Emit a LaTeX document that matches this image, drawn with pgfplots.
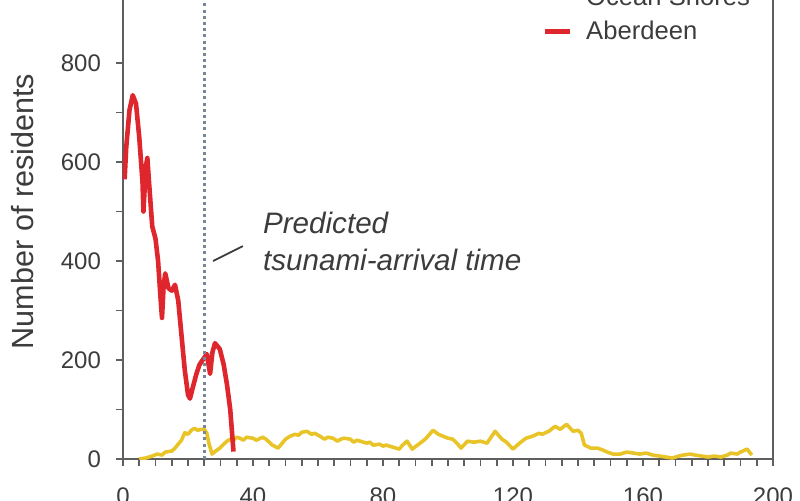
\documentclass[border=0pt]{standalone}
\usepackage{pgfplots}
\pgfplotsset{compat=1.18}
\usepackage{fontspec}
\setmainfont{Liberation Sans}

\definecolor{aberdeen}{RGB}{222,38,44}
\definecolor{oceanshores}{RGB}{232,196,40}
\definecolor{axisgrey}{RGB}{95,95,95}
\definecolor{textgrey}{RGB}{60,60,60}
\definecolor{arrivalline}{RGB}{120,135,150}

\begin{document}
\begin{tikzpicture}
\begin{axis}[
    name=ax,
    at={(0,0)}, anchor=south west,
    scale only axis,
    width=325pt, height=247.5pt,
    xmin=0, xmax=200, ymin=0, ymax=1000,
    xtick={0,40,...,200},
    ytick={0,200,...,800},
    minor x tick num=7,
    minor y tick num=1,
    tick align=outside,
    xtick pos=left, ytick pos=left,
    major tick length=3.5pt, minor tick length=3.5pt,
    axis line style={axisgrey, line width=0.8pt},
    every tick/.style={axisgrey, line width=0.8pt},
    /pgf/number format/assume math mode=true,
    tick label style={font=\fontsize{12}{14}\selectfont, text=textgrey},
    xticklabel style={yshift=-7.5pt},
    yticklabel style={xshift=-4pt},
    ylabel={Number of residents},
    ylabel style={font=\fontsize{15.3}{18}\selectfont, text=textgrey,
        at={(axis description cs:-0.154,0.5)}, anchor=center},
    legend style={draw=none, fill=none, at={(axis description cs:0.645,0.897)},
        anchor=west, inner sep=0pt, font=\fontsize{12.8}{15}\selectfont,
        text=textgrey, row sep=3pt,
        nodes={inner sep=1.5pt}},
    legend cell align=left,
    legend image code/.code={\draw[#1] (0pt,0pt) -- (12.5pt,0pt);
        \path (18pt,0pt);},
]
% Ocean Shores
\addplot[color=oceanshores, line width=1.8pt, line join=round] coordinates {
(5,0)(7,2)(9,6)(10.5,10)(12,8)(13,14)(15,16)(16,22)(17,30)(18,38)(19,53)(20,50)
(21,58)(22,62)(23,58)(24,60)(25,60)(25.8,52)(26.5,30)(27.4,10)(28.5,16)(29.8,22)
(31,30)(32,36)(33,40)(34,38)(35,44)(36,42)(37,38)(38,44)(40,42)(41,38)(43,44)
(44,40)(45,34)(46,28)(47.7,22)(49,32)(50,40)(51.4,46)(53,50)(54,48)(55,54)
(56.6,56)(58,50)(59,52)(60.6,46)(62,40)(63,44)(64.6,42)(66,36)(67,40)(68,42)
(70,40)(71,34)(72,38)(73,36)(75,32)(76,34)(77,28)(79,30)(80,26)(81,28)(83,24)
(85,20)(86,28)(87.4,36)(89,20)(91,30)(93,40)(95.4,58)(97,50)(98.5,46)(100,42)
(101.5,40)(103,30)(104,22)(106,36)(108,34)(110,36)(112,32)(114.5,56)(116.6,40)
(118,34)(120,20)(121,26)(122,32)(124,42)(126,46)(128,52)(129,50)(131,56)(133,66)
(134.5,60)(136.5,70)(138.5,56)(140,58)(141,52)(142,28)(144,22)(146,22)(147.7,18)
(149,14)(150.8,10)(153,10)(155,14)(157,12)(159,10)(161,12)(163,8)(165,6)(167,4)
(169,2)(171,6)(172.5,8)(174.5,10)(176,8)(178,6)(180,4)(182,6)(184,4)(186,8)
(187,12)(189,10)(190,14)(192,20)(193.5,8)
};
\addlegendentry{Ocean Shores}
% Aberdeen
\addplot[color=aberdeen, line width=2.3pt, line join=round] coordinates {
(0.5,565)(1,630)(2,705)(3,735)(4,718)(5,650)(6,560)(6.3,500)(7,590)(7.5,608)
(8,560)(9,470)(10,445)(10.8,400)(11.5,330)(12,285)(12.5,350)(13,375)(14,345)
(15,340)(16,352)(17,320)(18,250)(19,180)(20,130)(20.6,122)(21.5,145)(22.5,170)
(23.5,190)(24.5,200)(25.8,212)(26.8,172)(27.5,215)(28.3,234)(29.8,222)(31,190)
(32,150)(33,100)(34,15)
};
\addlegendentry{Aberdeen}
% predicted arrival
\draw[arrivalline, line width=1.6pt, dash pattern=on 1.5pt off 1.6pt]
    (axis cs:25,0) -- (axis cs:25,1000);
\draw[textgrey, line width=0.9pt] (axis cs:27.7,400) -- (axis cs:36.9,430);
\node[anchor=base west, font=\itshape\fontsize{14.8}{17}\selectfont, text=textgrey,
    inner sep=0pt] at (axis cs:43,455) {Predicted};
\node[anchor=base west, font=\itshape\fontsize{14.8}{17}\selectfont, text=textgrey,
    inner sep=0pt] at (axis cs:43,380) {tsunami-arrival time};
\end{axis}
\pgfresetboundingbox
\path[use as bounding box] ([shift={(-61.5pt,-20.5pt)}]ax.south west)
    rectangle ([shift={(338.5pt,229.5pt)}]ax.south west);
\end{tikzpicture}
\end{document}
